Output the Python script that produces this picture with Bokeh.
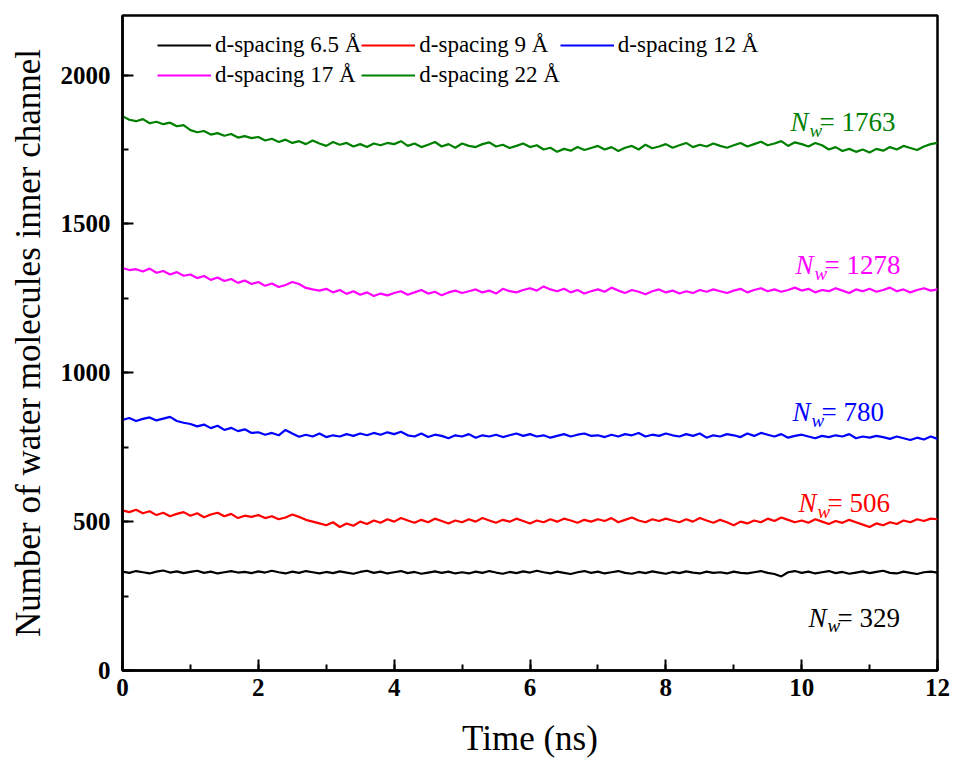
import numpy as np
from bokeh.plotting import figure
from bokeh.models import (Legend, LegendItem, Label, SingleIntervalTicker, Range1d)
from bokeh.embed import file_html
from bokeh.resources import INLINE

# ---------------- data ----------------
time_ns = np.round(np.arange(0, 121) * 0.1, 1)

d22 = [1862, 1850, 1845, 1852, 1838, 1843, 1835, 1840, 1828, 1832,
       1815, 1808, 1812, 1800, 1805, 1796, 1802, 1790, 1795, 1788,
       1792, 1780, 1786, 1775, 1783, 1772, 1778, 1768, 1780, 1770,
       1762, 1775, 1766, 1772, 1760, 1768, 1758, 1770, 1764, 1772,
       1768, 1778, 1762, 1770, 1758, 1766, 1775, 1760, 1768, 1756,
       1770, 1762, 1758, 1768, 1774, 1760, 1766, 1755, 1762, 1770,
       1758, 1764, 1750, 1756, 1742, 1752, 1746, 1758, 1748, 1755,
       1762, 1750, 1758, 1745, 1756, 1762, 1750, 1766, 1754, 1760,
       1768, 1756, 1764, 1772, 1758, 1766, 1760, 1770, 1762, 1756,
       1764, 1772, 1760, 1768, 1776, 1764, 1770, 1778, 1762, 1774,
       1768, 1760, 1772, 1764, 1750, 1758, 1745, 1752, 1742, 1750,
       1740, 1752, 1746, 1758, 1750, 1762, 1755, 1748, 1760, 1768,
       1772]

d17 = [1352, 1345, 1348, 1340, 1350, 1336, 1342, 1330, 1338, 1326,
       1330, 1318, 1325, 1312, 1320, 1308, 1315, 1302, 1310, 1298,
       1305, 1292, 1300, 1288, 1295, 1305, 1298, 1285, 1280, 1276,
       1282, 1270, 1278, 1265, 1274, 1262, 1270, 1258, 1266, 1260,
       1268, 1274, 1262, 1270, 1278, 1266, 1272, 1260, 1270, 1276,
       1268, 1274, 1280, 1270, 1276, 1266, 1282, 1274, 1270, 1278,
       1284, 1276, 1290, 1280, 1274, 1282, 1270, 1278, 1266, 1274,
       1280, 1272, 1286, 1276, 1268, 1278, 1272, 1264, 1274, 1280,
       1270, 1276, 1266, 1274, 1268, 1278, 1272, 1280, 1274, 1268,
       1276, 1282, 1270, 1278, 1284, 1274, 1280, 1272, 1278, 1286,
       1276, 1282, 1270, 1278, 1274, 1284, 1276, 1268, 1280, 1274,
       1282, 1272, 1278, 1286, 1274, 1280, 1270, 1278, 1284, 1276,
       1280]

d12 = [842, 848, 838, 845, 850, 840, 846, 852, 838, 832,
       828, 820, 826, 814, 822, 808, 815, 804, 810, 798,
       800, 792, 798, 790, 808, 796, 785, 792, 786, 796,
       784, 790, 786, 794, 788, 796, 790, 798, 792, 800,
       794, 802, 790, 786, 796, 784, 792, 788, 780, 790,
       786, 794, 782, 790, 786, 792, 784, 790, 796, 788,
       794, 786, 790, 782, 788, 794, 786, 792, 796, 788,
       790, 784, 792, 786, 794, 790, 798, 786, 792, 788,
       796, 790, 786, 794, 788, 796, 782, 790, 786, 794,
       790, 784, 796, 788, 798, 792, 786, 794, 782, 788,
       792, 786, 780, 788, 784, 790, 786, 794, 780, 786,
       782, 788, 784, 778, 786, 780, 774, 782, 776, 786,
       778]

d9 = [538, 532, 540, 528, 535, 522, 530, 518, 526, 532,
      520, 528, 515, 524, 530, 518, 526, 512, 520, 516,
      522, 512, 518, 508, 514, 524, 516, 506, 500, 494,
      488, 498, 482, 494, 486, 500, 492, 504, 496, 508,
      500, 512, 504, 496, 506, 498, 510, 502, 494, 504,
      498, 508, 500, 512, 504, 496, 506, 500, 510, 502,
      494, 504, 498, 508, 500, 510, 504, 496, 506, 500,
      508, 502, 512, 498, 506, 514, 504, 498, 508, 502,
      510, 504, 498, 508, 500, 512, 504, 496, 506, 498,
      488, 500, 494, 504, 498, 510, 502, 514, 506, 498,
      504, 496, 508, 500, 492, 502, 496, 506, 498, 490,
      482, 494, 488, 498, 492, 504, 498, 508, 502, 510,
      508]

d65 = [332, 328, 334, 330, 326, 332, 336, 329, 333, 327,
       331, 335, 328, 332, 326, 330, 334, 329, 331, 327,
       333, 329, 335, 330, 326, 332, 328, 334, 330, 326,
       331, 327, 333, 329, 325, 331, 335, 328, 332, 326,
       330, 334, 327, 331, 325, 329, 333, 328, 332, 326,
       330, 326, 332, 328, 334, 329, 325, 331, 327, 333,
       329, 335, 330, 326, 332, 328, 324, 330, 334, 328,
       332, 326, 330, 334, 328, 325, 331, 327, 333, 329,
       325, 331, 327, 333, 329, 326, 332, 328, 330, 326,
       332, 328, 326, 330, 334, 328, 324, 316, 330, 334,
       328, 332, 326, 330, 334, 327, 331, 325, 329, 333,
       327, 331, 335, 328, 326, 332, 328, 324, 330, 332,
       329]

series_names = ["d-spacing 6.5 Å", "d-spacing 9 Å", "d-spacing 12 Å",
                "d-spacing 17 Å", "d-spacing 22 Å"]
series_values = [d65, d9, d12, d17, d22]
nw_values = [329, 506, 780, 1278, 1763]

# ---------------- style / layout ----------------
colors = ["#000000", "#FF0000", "#0000FF", "#FF00FF", "#008000"]
label_x = [10.10, 9.953, 9.865, 9.91, 9.835]     # ns, left edge of "N"
label_y = [178, 561, 867, 1361, 1842]            # baseline position
FONT = "Liberation Serif"

p = figure(width=954, height=767, output_backend="svg", toolbar_location=None,
           x_range=Range1d(0, 12), y_range=Range1d(0, 2200),
           min_border_left=122, min_border_right=17,
           min_border_top=15, min_border_bottom=97)
p.grid.visible = False
p.background_fill_color = "white"
p.border_fill_color = "white"
p.outline_line_color = "black"
p.outline_line_width = 2.5

p.xaxis.ticker = SingleIntervalTicker(interval=2, num_minor_ticks=2)
p.yaxis.ticker = SingleIntervalTicker(interval=500, num_minor_ticks=2)
for ax in (p.xaxis, p.yaxis):
    ax.axis_line_width = 2.5
    ax.axis_line_color = "black"
    ax.major_tick_in = 11
    ax.major_tick_out = 0
    ax.minor_tick_in = 6
    ax.minor_tick_out = 0
    ax.major_tick_line_width = 2
    ax.minor_tick_line_width = 2
    ax.major_label_text_font = FONT
    ax.major_label_text_font_style = "bold"
    ax.major_label_text_font_size = "25px"
    ax.major_label_text_color = "black"
    ax.axis_label_text_font = FONT
    ax.axis_label_text_font_style = "normal"
    ax.axis_label_text_font_size = "35px"
    ax.axis_label_text_color = "black"
p.xaxis.major_label_standoff = 8
p.yaxis.major_label_standoff = 12
p.xaxis.axis_label = "Time (ns)"
p.yaxis.axis_label = "Number of water molecules inner channel"
p.xaxis.axis_label_standoff = 20
p.yaxis.axis_label_standoff = 10

items = []
for name, vals, col in zip(series_names, series_values, colors):
    r = p.line(time_ns, vals, line_color=col, line_width=2.2)
    items.append(LegendItem(label=name, renderers=[r]))

legend = Legend(items=items, orientation="horizontal", ncols=3,
                location=(35, 580), padding=0, margin=0, spacing=0,
                glyph_width=54, glyph_height=30, label_height=30,
                label_standoff=4, label_text_font=FONT,
                label_text_font_size="23px", label_text_color="black",
                border_line_alpha=0, background_fill_alpha=0)
p.add_layout(legend)

for lx, ly, val, col in zip(label_x, label_y, nw_values, colors):
    p.add_layout(Label(x=lx, y=ly, text="N", text_font=FONT,
                       text_font_style="italic", text_font_size="27px",
                       text_color=col, text_baseline="alphabetic"))
    p.add_layout(Label(x=lx, y=ly, x_offset=19, y_offset=-8, text="w",
                       text_font=FONT, text_font_style="italic",
                       text_font_size="19px", text_color=col,
                       text_baseline="alphabetic"))
    p.add_layout(Label(x=lx, y=ly, x_offset=29, text=f"= {val}",
                       text_font=FONT, text_font_size="27px",
                       text_color=col, text_baseline="alphabetic"))

open("out.html", "w").write(file_html(p, INLINE))
